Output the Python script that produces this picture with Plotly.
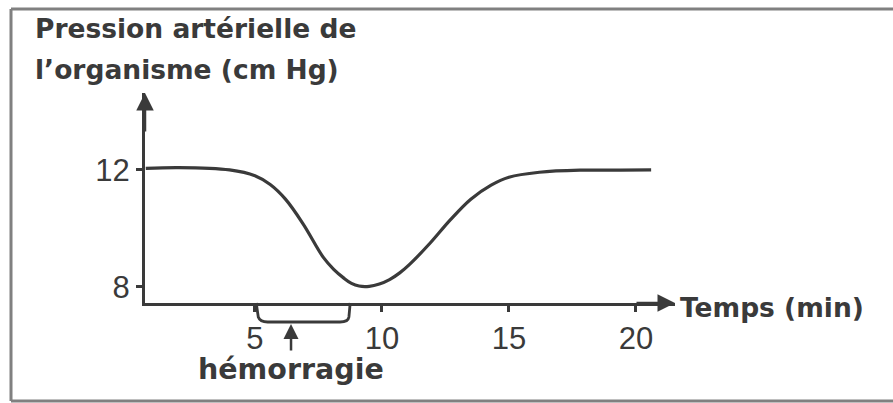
import plotly.graph_objects as go

# ---- data ----
temps_min = [0.7, 2.0, 4.0, 5.0, 5.6, 6.2, 6.9, 7.7, 8.1, 8.5, 8.8, 9.1, 9.5, 9.9,
             10.3, 10.7, 11.1, 11.9, 12.7, 13.5, 14.3, 15.0, 16.2, 17.8, 19.4, 20.6]
pression_cmHg = [12.05, 12.08, 12.0, 11.8, 11.5, 11.0, 10.15, 9.0, 8.6, 8.3, 8.12, 8.03,
                 8.02, 8.1, 8.25, 8.48, 8.78, 9.5, 10.3, 11.0, 11.48, 11.75, 11.92,
                 11.99, 11.99, 12.0]
x_ticks = [5, 10, 15, 20]
y_ticks = [8, 12]
hemorragie_debut, hemorragie_fin = 5.05, 8.75
hemorragie_fleche = 6.42

# ---- layout constants (pixels, in the 893x403 window) ----
W, H = 893, 403
PL, PR, PT, PB = 145, 675, 93, 303
INK = "#3a3a3a"
FONT = "Liberation Sans, Arial, sans-serif"
BFONT = "DejaVu Sans, sans-serif"


def fx(p):
    return (p - PL) / (PR - PL)


def fy(p):
    return (PB - p) / (PB - PT)


fig = go.Figure()
fig.add_trace(go.Scatter(x=temps_min, y=pression_cmHg, mode="lines",
                         line=dict(color=INK, width=3.2, shape="spline", smoothing=1.0),
                         hoverinfo="skip", showlegend=False))

axis_common = dict(showline=True, linewidth=3, linecolor=INK, showgrid=False,
                   zeroline=False, ticks="outside", ticklen=6, tickwidth=2.5,
                   tickcolor=INK, tickfont=dict(family=FONT, size=31, color=INK))
fig.update_xaxes(range=[0.67, 21.54], tickvals=x_ticks, **axis_common)
fig.update_yaxes(range=[7.45, 14.63], tickvals=y_ticks, **axis_common)

# bracket for hemorrhage period
yb = fy(322)
yc = fy(317)
path = (f"M {hemorragie_debut},0 L {hemorragie_debut + 0.08},{yc} "
        f"Q {hemorragie_debut + 0.15},{yb} {hemorragie_debut + 0.45},{yb} "
        f"L {hemorragie_fin - 0.4},{yb} "
        f"Q {hemorragie_fin - 0.08},{yb} {hemorragie_fin - 0.05},{yc} "
        f"L {hemorragie_fin},0")
shapes = [dict(type="path", xref="x", yref="paper", path=path,
               line=dict(color=INK, width=2.8))]
# frame
frame = dict(xref="paper", yref="paper", line=dict(color="#808080", width=3))
shapes.append(dict(type="line", x0=fx(11), x1=fx(11), y0=fy(9), y1=fy(401), **frame))
shapes.append(dict(type="line", x0=fx(11), x1=fx(900), y0=fy(9), y1=fy(9), **frame))
shapes.append(dict(type="line", x0=fx(11), x1=fx(900), y0=fy(401), y1=fy(401), **frame))

txt = dict(family=BFONT, size=26.5, color=INK)
annotations = [
    # axis arrowheads
    dict(x=0, y=1, xref="paper", yref="paper", text="", showarrow=True, ax=0, ay=40,
         arrowhead=2, arrowsize=1.4, arrowwidth=2.5, arrowcolor=INK, standoff=0),
    dict(x=1, y=0, xref="paper", yref="paper", text="", showarrow=True, ax=-40, ay=0,
         arrowhead=2, arrowsize=1.4, arrowwidth=2.5, arrowcolor=INK, standoff=0),
    # hemorrhage arrow
    dict(x=hemorragie_fleche, y=fy(324), xref="x", yref="paper", text="", showarrow=True,
         ax=0, ay=28, arrowhead=2, arrowsize=1.2, arrowwidth=2.5, arrowcolor=INK, standoff=0),
    dict(x=fx(33), y=fy(28), xref="paper", yref="paper", xanchor="left", yanchor="middle",
         text="<b>Pression artérielle de</b>", showarrow=False, font=txt),
    dict(x=fx(33), y=fy(70), xref="paper", yref="paper", xanchor="left", yanchor="middle",
         text="<b>l’organisme (cm Hg)</b>", showarrow=False, font=txt),
    dict(x=fx(678), y=fy(307), xref="paper", yref="paper", xanchor="left", yanchor="middle",
         text="<b>Temps (min)</b>", showarrow=False, font=txt),
    dict(x=hemorragie_fleche, y=fy(369), xref="x", yref="paper", xanchor="center",
         yanchor="middle", text="<b>hémorragie</b>", showarrow=False,
         font=dict(family=BFONT, size=28.5, color=INK)),
]

fig.update_layout(width=W, height=H,
                  margin=dict(l=PL, r=W - PR, t=PT, b=H - PB),
                  paper_bgcolor="white", plot_bgcolor="white",
                  shapes=shapes, annotations=annotations, showlegend=False)
fig.write_html("out.html", config={"displayModeBar": False},
               post_script="document.body.style.margin='0';"
                           "document.body.style.overflow='hidden';")
